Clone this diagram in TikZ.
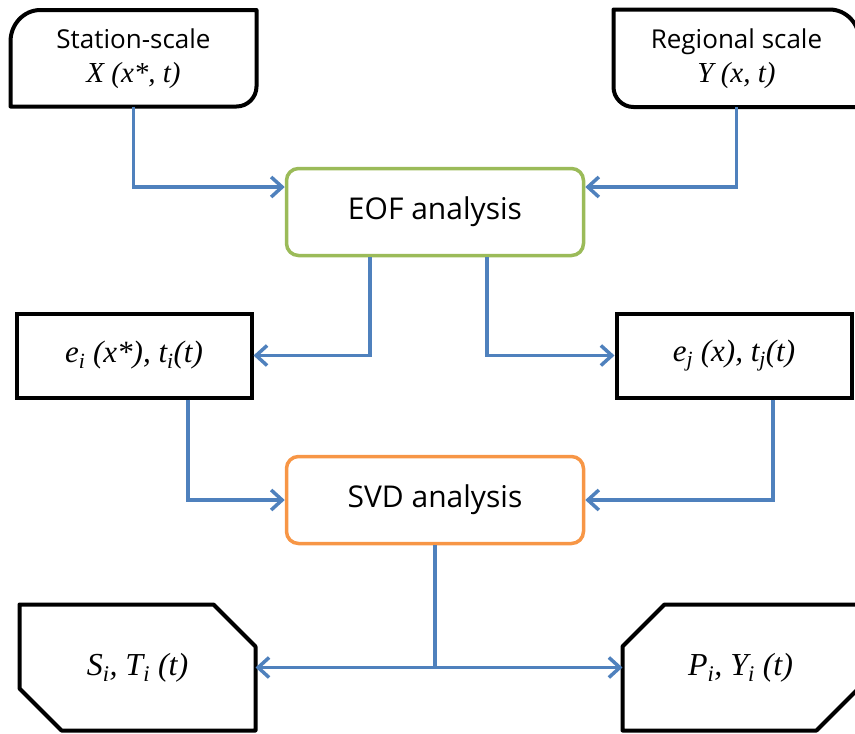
\documentclass[tikz,border=0pt]{standalone}
\usepackage{fontspec}
\setmainfont{Liberation Serif}
\newfontfamily\labelfont{Open Sans}
\usetikzlibrary{arrows.meta,calc}

\definecolor{linkblue}{HTML}{4F81BD}
\definecolor{eofgreen}{HTML}{9BBB59}
\definecolor{svdorange}{HTML}{F79646}

\tikzset{
  datanode/.style={inner sep=0pt, outer sep=0pt, align=center},
  outline/.style={line width=4pt, line join=round},
  process/.style={draw, line width=3.5pt, rounded corners=12pt, minimum width=297pt, minimum height=87pt,
    inner sep=0pt, font=\labelfont\fontsize{30}{36}\selectfont},
  resultbox/.style={draw, line width=4pt, minimum width=235pt, minimum height=84pt, inner sep=0pt,
    font=\itshape\fontsize{31}{36}\selectfont},
  link/.style={draw=linkblue, line width=3.5pt, -{Straight Barb[length=11pt,width=20pt]}},
}

\begin{document}
\begin{tikzpicture}[x=1pt,y=1pt,yscale=-1]
	\useasboundingbox (0,0) rectangle (855,734);
	
	% Input data
	\node (tl) [datanode, minimum width=246pt, minimum height=95pt, font=\fontsize{26}{34}\selectfont] at (133.5,59)
		{{\labelfont Station-scale}\\
		 {\itshape\fontsize{29}{34}\selectfont X (x*, t)}};
	\node (tr) [datanode, minimum width=246pt, minimum height=96pt, font=\fontsize{26}{34}\selectfont] at (736.5,59)
		{{\labelfont Regional scale}\\
		 {\itshape\fontsize{29}{34}\selectfont Y (x, t)}};
	\draw [outline] ($(tl.north west)+(30,-1.5)$) -- ($(tl.north east)+(0,-1.5)$) -- ($(tl.south east)+(0,-20)$)
		.. controls ($(tl.south east)+(0,-9)$) and ($(tl.south east)+(-9,0)$) .. ($(tl.south east)+(-20,0)$)
		-- (tl.south west) -- ($(tl.north west)+(0,30)$)
		.. controls ($(tl.north west)+(0,13)$) and ($(tl.north west)+(13,-1.5)$) .. ($(tl.north west)+(30,-1.5)$) -- cycle;
	\draw [outline] ($(tr.north east)+(-30,-1.5)$) -- ($(tr.north west)+(0,-1.5)$) -- ($(tr.south west)+(0,-20)$)
		.. controls ($(tr.south west)+(0,-9)$) and ($(tr.south west)+(9,0)$) .. ($(tr.south west)+(20,0)$)
		-- (tr.south east) -- ($(tr.north east)+(0,30)$)
		.. controls ($(tr.north east)+(0,13)$) and ($(tr.north east)+(-13,-1.5)$) .. ($(tr.north east)+(-30,-1.5)$) -- cycle;
	
	% Analysis steps
	\node (eof) [process, draw=eofgreen] at (435,212) {EOF analysis};
	\node (svd) [process, draw=svdorange] at (435,500) {SVD analysis};
	
	% Modes
	\node (lm) [resultbox] at (134,355.5) {e\textsubscript{i} (x*), t\textsubscript{i}(t)};
	\node (rm) [resultbox] at (734,355.5) {e\textsubscript{j} (x), t\textsubscript{j}(t)};
	
	% Results
	\node (bl) [datanode, minimum width=236pt, minimum height=126pt, font=\itshape\fontsize{32}{36}\selectfont]
		at (137.5,667.5) {S\textsubscript{i}, T\textsubscript{i} (t)};
	\node (br) [datanode, minimum width=236pt, minimum height=126pt, font=\itshape\fontsize{32}{36}\selectfont]
		at (740.5,667.5) {P\textsubscript{i}, Y\textsubscript{i} (t)};
	\draw [outline] (bl.north west) -- ($(bl.north east)+(-42,0)$) -- ($(bl.north east)+(0,42)$) -- (bl.south east)
		-- ($(bl.south west)+(42,0)$) -- ($(bl.south west)+(0,-42)$) -- cycle;
	\draw [outline] (br.north east) -- ($(br.north west)+(42,0)$) -- ($(br.north west)+(0,42)$) -- (br.south west)
		-- ($(br.south east)+(-42,0)$) -- ($(br.south east)+(0,-42)$) -- cycle;
	
	% Connectors
	\draw [link] (tl.south) |- ([yshift=-25pt]eof.west);
	\draw [link] (tr.south) |- ([yshift=-25pt]eof.east);
	\draw [link] ([xshift=-65pt]eof.south) |- (lm.east);
	\draw [link] ([xshift=52pt]eof.south) |- (rm.west);
	\draw [link] ([xshift=54pt]lm.south) |- (svd.west);
	\draw [link] ([xshift=39pt]rm.south) |- (svd.east);
	\draw [link] (svd.south) |- (bl.east);
	\draw [link] (svd.south) |- (br.west);
\end{tikzpicture}
\end{document}
